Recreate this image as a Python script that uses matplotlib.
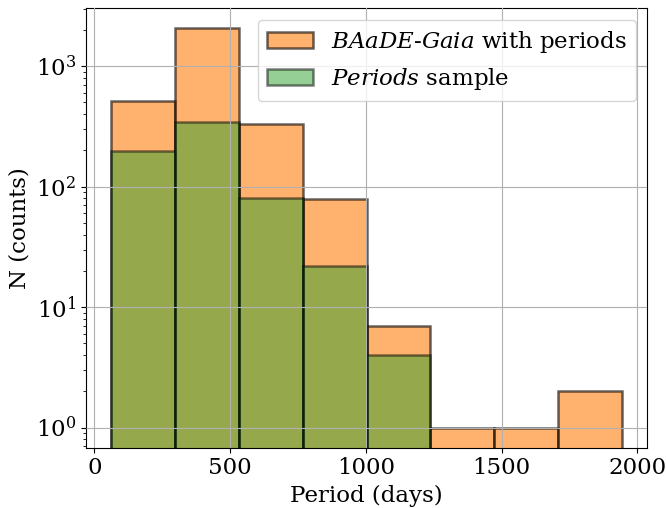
import matplotlib
matplotlib.use('Agg')
import matplotlib.pyplot as plt
import numpy as np

# histogram bins (days) and counts
edges = [62.5, 297.5, 532.5, 767.5, 1002.5, 1237.5, 1472.5, 1707.5, 1942.5]
baade_counts = [518, 2070, 330, 79, 7, 1, 1, 2]
periods_counts = [198, 344, 80, 22, 4, 0, 0, 0]

centers = [(a + b) / 2 for a, b in zip(edges[:-1], edges[1:])]

plt.rcParams['font.family'] = 'DejaVu Serif'
plt.rcParams['mathtext.fontset'] = 'dejavuserif'
plt.rcParams['font.size'] = 16.5

fig = plt.figure(figsize=(6.66, 5.08), dpi=100)
ax = fig.add_axes([0.129, 0.119, 0.843, 0.865])

ax.hist(centers, bins=edges, weights=baade_counts, color='C1', alpha=0.6,
        edgecolor='k', linewidth=1.8, log=True,
        label=r'$\it{BAaDE}$-$\it{Gaia}$ with periods')
ax.hist(centers, bins=edges, weights=periods_counts, color='C2', alpha=0.5,
        edgecolor='k', linewidth=1.8, log=True,
        label=r'$\it{Periods}$ sample')

ax.grid(True)
ax.set_axisbelow(False)
ax.set_xlabel('Period (days)')
ax.set_ylabel('N (counts)')
ax.legend(loc='upper right')

fig.savefig('out.png', dpi=100)
